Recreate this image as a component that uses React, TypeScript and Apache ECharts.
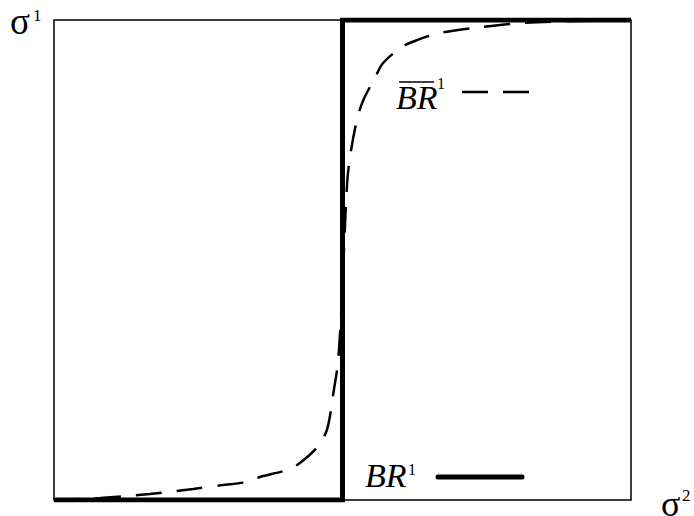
import React, { useEffect, useRef } from "react";
import * as echarts from "echarts";

// Strategy of player 2 (horizontal) and player 1's response (vertical)
const brStep: [number, number][] = [
  [0, 0],
  [0.5, 0],
  [0.5, 1],
  [1, 1],
];

// Smoothed best response of player 1
const brSmoothX = [
  0, 0.08, 0.166, 0.241, 0.291, 0.334, 0.357, 0.404, 0.426, 0.456, 0.473, 0.485, 0.492,
  0.497, 0.501, 0.504, 0.508, 0.513, 0.525, 0.536, 0.556, 0.57, 0.603, 0.629, 0.669,
  0.738, 0.813, 0.912, 1,
];
const brSmoothY = [
  0, 0.004, 0.0125, 0.023, 0.031, 0.0375, 0.048, 0.0625, 0.077, 0.11, 0.146, 0.229, 0.285,
  0.375, 0.479, 0.5625, 0.66, 0.715, 0.792, 0.833, 0.879, 0.91, 0.944, 0.958, 0.973,
  0.985, 0.994, 0.998, 1,
];

const SERIF = "'Liberation Serif', 'Times New Roman', serif";

const txt = (
  left: number,
  top: number,
  text: string,
  fontSize: number,
  italic = false
) => ({
  type: "text",
  left,
  top,
  style: {
    text,
    font: `${italic ? "italic " : ""}${fontSize}px ${SERIF}`,
    fill: "#000",
  },
});

export default function App() {
  const ref = useRef<HTMLDivElement>(null);

  useEffect(() => {
    if (!ref.current) return;
    const chart = echarts.init(ref.current, null, { renderer: "svg" });
    const hiddenAxis = {
      type: "value" as const,
      min: 0,
      max: 1,
      axisLine: { show: false },
      axisTick: { show: false },
      axisLabel: { show: false },
      splitLine: { show: false },
    };
    chart.setOption({
      animation: false,
      backgroundColor: "#ffffff",
      grid: {
        left: 54,
        top: 20,
        right: 63,
        bottom: 16,
        show: true,
        borderColor: "#000",
        borderWidth: 1.5,
        backgroundColor: "transparent",
      },
      xAxis: hiddenAxis,
      yAxis: hiddenAxis,
      series: [
        {
          type: "line",
          data: brSmoothX.map((x, i) => [x, brSmoothY[i]]),
          smooth: 0.3,
          symbol: "none",
          lineStyle: { color: "#000", width: 2.5, type: [26, 15] },
          z: 2,
        },
        {
          type: "line",
          data: brStep,
          symbol: "none",
          lineStyle: { color: "#000", width: 5, join: "miter" },
          z: 3,
        },
      ],
      graphic: [
        // axis names
        txt(10, 3, "σ", 37),
        txt(33, 7, "1", 17),
        txt(661, 486, "σ", 36),
        txt(682, 487, "2", 17),
        // legend: smoothed response
        txt(396, 80, "BR", 34, true),
        {
          type: "line",
          shape: { x1: 399, y1: 82, x2: 434, y2: 82 },
          style: { stroke: "#000", lineWidth: 1.5 },
        },
        txt(437, 75, "1", 16),
        {
          type: "line",
          shape: { x1: 462, y1: 92, x2: 531, y2: 92 },
          style: { stroke: "#000", lineWidth: 2.5, lineDash: [26, 15] },
        },
        // legend: best response
        txt(365, 458, "BR", 34, true),
        txt(408, 461, "1", 16),
        {
          type: "line",
          shape: { x1: 438, y1: 477, x2: 522, y2: 477 },
          style: { stroke: "#000", lineWidth: 5, lineCap: "round" },
        },
      ],
    });
    return () => chart.dispose();
  }, []);

  return (
    <div
      ref={ref}
      style={{ position: "fixed", left: 0, top: 0, width: 694, height: 516, background: "#fff" }}
    />
  );
}
